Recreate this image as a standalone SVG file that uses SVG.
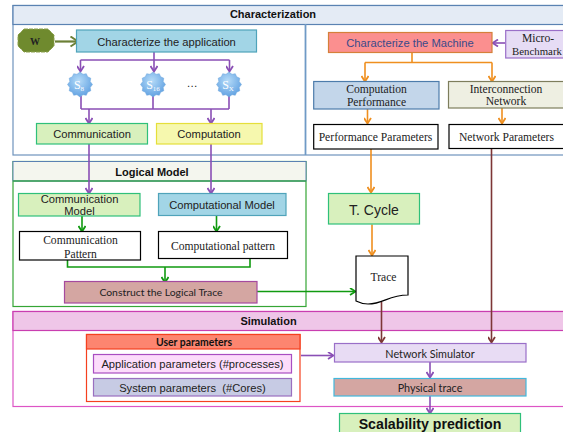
<svg xmlns="http://www.w3.org/2000/svg" width="563" height="432" viewBox="0 0 563 432">
<style>
text{text-anchor:middle;fill:#222}
.s{font-family:"Liberation Sans",Arial,sans-serif;font-size:11.2px}
.t{font-family:"Liberation Serif","Times New Roman",serif;font-size:11.6px}
.c{font-family:Lato,"Open Sans",sans-serif;font-size:10.8px}
.h{font-family:"Liberation Sans",Arial,sans-serif;font-size:11px;font-weight:bold;fill:#111}
.n{font-family:"Liberation Serif","Times New Roman",serif;font-size:12px;fill:#fff}
.w{fill:#fff;stroke:#000;stroke-width:1.2}
.l{fill:none;stroke-width:1.6}
.p{stroke:#8a4fb5}.o{stroke:#ef8f1f}.g{stroke:#109a10}.b{stroke:#7d3636}
</style>
<defs>
<marker id="ap" markerWidth="8" markerHeight="8" refX="6" refY="4" orient="auto" markerUnits="userSpaceOnUse"><path d="M1 0.5L6.500 4L1 7.500" fill="none" stroke="#8a4fb5" stroke-width="1.800"/></marker>
<marker id="ao" markerWidth="8" markerHeight="8" refX="6" refY="4" orient="auto" markerUnits="userSpaceOnUse"><path d="M1 0.5L6.500 4L1 7.500" fill="none" stroke="#ef8f1f" stroke-width="1.800"/></marker>
<marker id="ag" markerWidth="8" markerHeight="8" refX="6" refY="4" orient="auto" markerUnits="userSpaceOnUse"><path d="M1 0.5L6.500 4L1 7.500" fill="none" stroke="#109a10" stroke-width="1.800"/></marker>
<marker id="ab" markerWidth="8" markerHeight="8" refX="6" refY="4" orient="auto" markerUnits="userSpaceOnUse"><path d="M1 0.5L6.500 4L1 7.500" fill="none" stroke="#7d3636" stroke-width="1.800"/></marker>
<marker id="ak" markerWidth="12" markerHeight="12" refX="9" refY="6" orient="auto" markerUnits="userSpaceOnUse"><path d="M1.500 1L9 6L1.500 11" fill="none" stroke="#6b7f35" stroke-width="2"/></marker>
<radialGradient id="star" cx="45%" cy="35%" r="70%"><stop offset="0" stop-color="#b5dbf8"/><stop offset="1" stop-color="#5b9de0"/></radialGradient>
<path id="burst" d="M0-12.500L3-10.200L6.300-10.800L7.700-7.700L10.800-6.300L10.200-3L12.500 0L10.200 3L10.800 6.300L7.700 7.700L6.300 10.800L3 10.200L0 12.500L-3 10.200L-6.300 10.800L-7.700 7.700L-10.800 6.300L-10.200 3L-12.500 0L-10.200-3L-10.800-6.300L-7.700-7.700L-6.300-10.800L-3-10.200Z" fill="url(#star)" stroke="#6fa6dc" stroke-width=".5"/>
</defs>

<g id="characterization">
<rect x="13" y="5.500" width="552" height="149.500" fill="#fff" stroke="#6f93bd" stroke-width="1.200"/>
<rect x="13" y="5.500" width="552" height="19" fill="#e4ebf5" stroke="#5a82b2" stroke-width="1.200"/>
<path d="M305.500 24V155" stroke="#6f9ac6" stroke-width="1.800" fill="none"/>
<text class="h" x="273" y="18.300">Characterization</text>
</g>
<g id="logical-model">
<rect x="13" y="161.500" width="293" height="145" fill="#fff" stroke="#35a535" stroke-width="1.200"/>
<rect x="13" y="161.500" width="293" height="19.500" fill="#f4f6ee" stroke="#5a82b2" stroke-width="1"/>
<path d="M13 181H306" stroke="#35a04f" stroke-width="1.500"/>
<text class="h" x="152" y="175.500">Logical Model</text>
</g>
<g id="simulation">
<rect x="13" y="311.500" width="552" height="95" fill="#fff" stroke="#dd55c5" stroke-width="1.200"/>
<rect x="13" y="311.500" width="552" height="19" fill="#efc6e8" stroke="#c93eb0" stroke-width="1.200"/>
<text class="h" x="268.500" y="325">Simulation</text>
</g>

<g id="connectors">
<path class="l" d="M55 41.500H78" stroke="#6b7f35" style="stroke-width:2.200" marker-end="url(#ak)"/>
<path class="l p" d="M154 52V60M80.500 60H229.500"/>
<path class="l p" d="M80.500 60V71" marker-end="url(#ap)"/><path class="l p" d="M154 60V71" marker-end="url(#ap)"/><path class="l p" d="M229.500 60V71" marker-end="url(#ap)"/>
<path class="l p" d="M81 96V109M153 96V109M229 96V109M81 109H229"/>
<path class="l p" d="M89 109V123" marker-end="url(#ap)"/><path class="l p" d="M211 109V123" marker-end="url(#ap)"/>
<path class="l p" d="M89 144V193" marker-end="url(#ap)"/><path class="l p" d="M211 144V193" marker-end="url(#ap)"/>
<path class="l g" d="M82 216V231" marker-end="url(#ag)"/><path class="l g" d="M216.500 216V231" marker-end="url(#ag)"/>
<path class="l g" d="M67.500 260V267H250V259"/><path class="l g" d="M165 267V282" marker-end="url(#ag)"/>
<path class="l g" d="M257 291.500H355" marker-end="url(#ag)"/>
<path class="l o" d="M412 53V62.500M365 62.500H492"/>
<path class="l o" d="M365 62.500V81" marker-end="url(#ao)"/><path class="l o" d="M492 62.500V81" marker-end="url(#ao)"/>
<path class="l p" d="M505 43H493" marker-end="url(#ap)"/>
<path class="l o" d="M367.500 109V123" marker-end="url(#ao)"/><path class="l o" d="M502 108V123" marker-end="url(#ao)"/>
<path class="l o" d="M371 149V192" marker-end="url(#ao)"/><path class="l o" d="M372 224.500V255" marker-end="url(#ao)"/>
<path class="l b" d="M381.500 302V342" marker-end="url(#ab)"/>
<path class="l b" d="M491.500 148.500V342" marker-end="url(#ab)"/>
<path class="l p" d="M301 355.500H333" marker-end="url(#ap)"/>
<path class="l p" d="M430 362V377" marker-end="url(#ap)"/><path class="l p" d="M430 396V413" marker-end="url(#ap)"/>
</g>

<g id="w"><path d="M24 29H48L54 35V46L48 52H24L18 46V35Z" fill="#6f8a2e" stroke="#8ba04c" stroke-dasharray="4 1"/><text x="35" y="45" font-family="Liberation Serif,serif" font-size="10" font-weight="bold" fill="#111">W</text></g>
<g id="char-app"><rect x="76.500" y="30" width="180" height="22" fill="#a2d5e6" stroke="#4fa3ba" stroke-width="1.200"/><text class="s" x="166.500" y="46">Characterize the application</text></g>
<g id="s8"><use href="#burst" x="80" y="84.500"/><text class="n" x="79" y="89">S<tspan font-size="7" dy="2">8</tspan></text></g>
<g id="s16"><use href="#burst" x="153" y="84.500"/><text class="n" x="153" y="89">S<tspan font-size="7" dy="2">16</tspan></text></g>
<g id="dots"><text class="s" x="192" y="87">…</text></g>
<g id="sx"><use href="#burst" x="229" y="84.500"/><text class="n" x="228" y="89">S<tspan font-size="7" dy="2">X</tspan></text></g>
<g id="communication"><rect x="36.500" y="123.500" width="111" height="20.500" fill="#d8f0bd" stroke="#2fc07a" stroke-width="1.200"/><text class="s" x="92" y="138">Communication</text></g>
<g id="computation"><rect x="156.500" y="123.500" width="105.500" height="20.500" fill="#f6f8ae" stroke="#e5df3a" stroke-width="1.200"/><text class="s" x="209" y="138">Computation</text></g>

<g id="char-machine"><rect x="328.500" y="32.500" width="163.500" height="20" fill="#fb8f8f" stroke="#d5803a" stroke-width="1.200"/><text class="s" x="410" y="47" style="fill:#3a4a8a">Characterize the Machine</text></g>
<g id="micro"><rect x="505.700" y="30.500" width="60" height="27.500" fill="#e6dcf5" stroke="#9a6fc8" stroke-width="1.200"/><text class="t" x="538" y="42">Micro-</text><text class="t" x="537" y="55" style="font-size:10.800px">Benchmark</text></g>
<g id="comp-perf"><rect x="313.700" y="81.500" width="125.300" height="27.500" fill="#c3d6ea" stroke="#4d7cab" stroke-width="1.200"/><text class="t" x="376.500" y="93">Computation</text><text class="t" x="376.500" y="106">Performance</text></g>
<g id="interconnect"><rect x="448.500" y="81.500" width="116" height="26.500" fill="#eeefe2" stroke="#7d7d5c" stroke-width="1.200"/><text class="t" x="506" y="93">Interconnection</text><text class="t" x="506" y="105">Network</text></g>
<g id="perf-params"><rect class="w" x="313.700" y="124.500" width="124.300" height="24.500"/><text class="t" x="375.500" y="141">Performance Parameters</text></g>
<g id="net-params"><rect class="w" x="449" y="124.500" width="116" height="24"/><text class="t" x="506.500" y="141">Network Parameters</text></g>

<g id="comm-model"><rect x="18.500" y="193.500" width="121.500" height="22.500" fill="#d8f0bd" stroke="#2fc07a" stroke-width="1.200"/><text class="s" x="79.500" y="203">Communication</text><text class="s" x="79.500" y="215">Model</text></g>
<g id="comp-model"><rect x="158.500" y="193.500" width="127.500" height="22" fill="#a2d5e6" stroke="#4fa3ba" stroke-width="1.200"/><text class="s" x="222" y="209">Computational Model</text></g>
<g id="comm-pattern"><rect class="w" x="19.500" y="231.500" width="121" height="28.500"/><text class="t" x="80.500" y="244">Communication</text><text class="t" x="80.500" y="258">Pattern</text></g>
<g id="comp-pattern"><rect class="w" x="158.500" y="231.500" width="129" height="27"/><text class="t" x="223" y="250">Computational pattern</text></g>
<g id="construct"><rect x="64.500" y="281.500" width="192.500" height="21.500" fill="#d4a6a2" stroke="#a54a9e" stroke-width="1.200"/><text class="c" x="161" y="296" style="font-size:10.400px">Construct the Logical Trace</text></g>

<g id="t-cycle"><rect x="328.500" y="193.500" width="91" height="30.500" fill="#d8f0bd" stroke="#2fc07a" stroke-width="1.200"/><text x="374" y="215" font-family="Liberation Sans,sans-serif" font-size="14">T. Cycle</text></g>
<g id="trace"><path d="M356 256H408V295C388 295 384 304 368 304C362 304 358 302 356 301Z" fill="#fff" stroke="#000" stroke-width="1.200"/><text class="t" x="383.500" y="281">Trace</text></g>

<g id="user-params"><rect x="86.500" y="334.500" width="213.500" height="67" fill="#fff" stroke="#f5401f" stroke-width="1.200"/><rect x="86.500" y="334.500" width="213.500" height="14.500" fill="#fd8570" stroke="#f5401f" stroke-width="1.200"/><text class="c" x="194" y="346" style="fill:#111;font-weight:bold;font-size:10.400px">User parameters</text></g>
<g id="app-params"><rect x="93.500" y="354.500" width="198" height="18.500" fill="#fcdcfb" stroke="#a94ec2" stroke-width="1.200"/><text class="s" x="192.500" y="368">Application parameters (#processes)</text></g>
<g id="sys-params"><rect x="93.500" y="378.500" width="198" height="17.500" fill="#c7cbe4" stroke="#9a6fc0" stroke-width="1.200"/><text class="s" x="192.500" y="392" xml:space="preserve">System parameters  (#Cores)</text></g>
<g id="net-sim"><rect x="334.500" y="343.500" width="191.500" height="18.500" fill="#e8dcf4" stroke="#9a6fc8" stroke-width="1.200"/><text class="c" x="430" y="358">Network Simulator</text></g>
<g id="phys"><rect x="334" y="378.500" width="192" height="17.500" fill="#d4a6a2" stroke="#42b8dc" stroke-width="1.200"/><text class="c" x="430" y="392">Physical trace</text></g>
<g id="scal"><rect x="339.500" y="413.500" width="181" height="20" fill="#d8f0bd" stroke="#2fc07a" stroke-width="1.200"/><text x="430" y="429" font-family="Liberation Sans,sans-serif" font-size="14.200" font-weight="bold" style="fill:#111">Scalability prediction</text></g>
</svg>
